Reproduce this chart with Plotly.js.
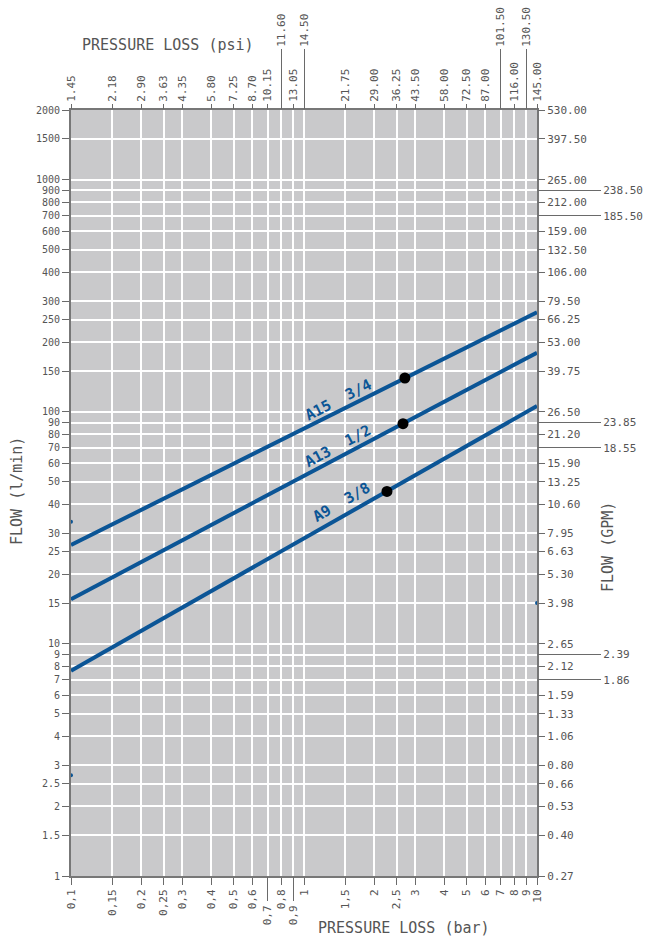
<!DOCTYPE html>
<html>
<head>
<meta charset="utf-8">
<script src="https://cdn.plot.ly/plotly-3.0.1.min.js"></script>
<style>
html,body{margin:0;padding:0;background:#fff;}
#chart{width:650px;height:939px;}
</style>
</head>
<body>
<div id="chart"></div>
<script>
// ---- tick data ----
const barTicks = [0.1,0.15,0.2,0.25,0.3,0.4,0.5,0.6,0.7,0.8,0.9,1,1.5,2,2.5,3,4,5,6,7,8,9,10];
const barLabels = ['0,1','0,15','0,2','0,25','0,3','0,4','0,5','0,6','0,7','0,8','0,9','1','1,5','2','2,5','3','4','5','6','7','8','9','10'];
const barLongTicks = [0.7, 0.9];
const psiLabels = ['1.45','2.18','2.90','3.63','4.35','5.80','7.25','8.70','10.15','11.60','13.05','14.50','21.75','29.00','36.25','43.50','58.00','72.50','87.00','101.50','116.00','130.50','145.00'];
const psiLongTicks = [0.8, 1, 7, 9];
const flowTicks = [1,1.5,2,2.5,3,4,5,6,7,8,9,10,15,20,25,30,40,50,60,70,80,90,100,150,200,250,300,400,500,600,700,800,900,1000,1500,2000];
const flowLabels = ['1','1.5','2','2.5','3','4','5','6','7','8','9','10','15','20','25','30','40','50','60','70','80','90','100','150','200','250','300','400','500','600','700','800','900','1000','1500','2000'];
const gpmLabels = ['0.27','0.40','0.53','0.66','0.80','1.06','1.33','1.59','1.86','2.12','2.39','2.65','3.98','5.30','6.63','7.95','10.60','13.25','15.90','18.55','21.20','23.85','26.50','39.75','53.00','66.25','79.50','106.00','132.50','159.00','185.50','212.00','238.50','265.00','397.50','530.00'];
const gpmLongTicks = [7, 9, 70, 90, 700, 900];

// ---- series data ----
const seriesNames = ['A15  3/4', 'A13  1/2', 'A9  3/8'];
const pressureEnds = [0.1, 10];
const a15Flow = [26.7, 269];
const a13Flow = [15.6, 180];
const a9Flow = [7.67, 106];
const pointPressure = [2.71, 2.66, 2.27];
const pointFlow = [140, 89, 45.4];
const edgeDotPressure = [0.1, 0.1, 10];
const edgeDotFlow = [33.6, 2.72, 15];
const labelPressure = [1.40, 1.40, 1.455];
const labelFlow = [113, 71, 40.8];
const labelAngle = [-27, -28, -30];

// ---- helpers ----
const BLUE = '#0b5596';
const TICKC = '#6a6a6a';
const TXT = '#555555';
const FONT = 'DejaVu Sans Mono';
const xr = [-1, 1];
const yr = [0, Math.log10(2000)];

function splitTicks(vals, labels, longs){
  const sv=[], st=[], lv=[], lt=[];
  vals.forEach((v,i)=>{ if(longs.includes(v)){lv.push(v);lt.push(labels[i]);} else {sv.push(v);st.push(labels[i]);} });
  return {sv, st, lv, lt};
}
const botSplit = splitTicks(barTicks, barLabels, barLongTicks);
const topSplit = splitTicks(barTicks, psiLabels, psiLongTicks);
const rgtSplit = splitTicks(flowTicks, gpmLabels, gpmLongTicks);

const tickFont = {family: FONT, size: 11, color: TXT};
const baseX = {type:'log', range:xr, autorange:false, showgrid:false, zeroline:false,
  ticks:'outside', tickcolor:TICKC, tickwidth:1, tickangle:-90, tickfont:tickFont, fixedrange:true};
const baseY = {type:'log', range:yr, autorange:false, showgrid:false, zeroline:false,
  ticks:'outside', tickcolor:TICKC, tickwidth:1, tickfont:tickFont, fixedrange:true};

const layout = {
  width:650, height:939,
  margin:{l:71, r:113, t:110, b:63},
  paper_bgcolor:'#ffffff', plot_bgcolor:'#c9c9cb',
  showlegend:false,
  xaxis: Object.assign({}, baseX, {
    tickmode:'array', tickvals:barTicks,
    ticktext:barTicks.map((v,i)=> barLongTicks.includes(v) ? '' : barLabels[i]),
    ticklen:7, showgrid:true, gridcolor:'#ffffff', gridwidth:2,
    showline:true, linecolor:'#777777', linewidth:2, mirror:true, anchor:'y'
  }),
  xaxis2: Object.assign({}, baseX, {
    overlaying:'x', side:'bottom', anchor:'y', tickmode:'array',
    tickvals:botSplit.lv, ticktext:botSplit.lt, ticklen:24
  }),
  xaxis3: Object.assign({}, baseX, {
    overlaying:'x', side:'top', anchor:'y', tickmode:'array',
    tickvals:topSplit.sv, ticktext:topSplit.st, ticklen:5
  }),
  xaxis4: Object.assign({}, baseX, {
    overlaying:'x', side:'top', anchor:'y', tickmode:'array',
    tickvals:topSplit.lv, ticktext:topSplit.lt, ticklen:60
  }),
  yaxis: Object.assign({}, baseY, {
    tickmode:'array', tickvals:flowTicks, ticktext:flowLabels, ticklen:7,
    tickfont:{family: FONT, size: 10, color: TXT},
    showgrid:true, gridcolor:'#ffffff', gridwidth:2,
    showline:true, linecolor:'#777777', linewidth:2, mirror:true, anchor:'x'
  }),
  yaxis2: Object.assign({}, baseY, {
    overlaying:'y', side:'right', anchor:'x', tickmode:'array',
    tickvals:rgtSplit.sv, ticktext:rgtSplit.st, ticklen:7
  }),
  yaxis3: Object.assign({}, baseY, {
    overlaying:'y', side:'right', anchor:'x', tickmode:'array',
    tickvals:rgtSplit.lv, ticktext:rgtSplit.lt, ticklen:63
  }),
  annotations: []
};

const titleFont = {family: FONT, size: 15, color: '#555555'};
function paperX(px){ return (px-71)/466; }
function paperY(py){ return (876-py)/766; }
layout.annotations.push(
  {text:'PRESSURE LOSS (psi)', xref:'paper', yref:'paper', x:paperX(168), y:paperY(45), xanchor:'center', yanchor:'middle', showarrow:false, font:titleFont},
  {text:'PRESSURE LOSS (bar)', xref:'paper', yref:'paper', x:paperX(404), y:paperY(928), xanchor:'center', yanchor:'middle', showarrow:false, font:titleFont},
  {text:'FLOW (l/min)', xref:'paper', yref:'paper', x:paperX(17), y:paperY(491), xanchor:'center', yanchor:'middle', textangle:-90, showarrow:false, font:titleFont},
  {text:'FLOW (GPM)', xref:'paper', yref:'paper', x:paperX(608), y:paperY(547), xanchor:'center', yanchor:'middle', textangle:-90, showarrow:false, font:titleFont}
);
seriesNames.forEach((n,i)=>{
  layout.annotations.push({text:'<b>'+n+'</b>', xref:'x', yref:'y', x:Math.log10(labelPressure[i]), y:Math.log10(labelFlow[i]),
    xanchor:'center', yanchor:'middle', textangle:labelAngle[i], showarrow:false,
    font:{family:FONT, size:15, color:BLUE}});
});

const flows = [a15Flow, a13Flow, a9Flow];
const data = [];
flows.forEach((f,i)=>{
  data.push({x:pressureEnds, y:f, mode:'lines', name:seriesNames[i], line:{color:BLUE, width:4}, hoverinfo:'skip', xaxis:'x', yaxis:'y'});
});
data.push({x:pointPressure, y:pointFlow, mode:'markers', marker:{color:'#000000', size:11}, hoverinfo:'skip', xaxis:'x', yaxis:'y', cliponaxis:false});
data.push({x:edgeDotPressure, y:edgeDotFlow, mode:'markers', marker:{color:BLUE, size:4}, hoverinfo:'skip', xaxis:'x', yaxis:'y', cliponaxis:false});
// invisible anchors so overlay axes are registered
[['x2','y'],['x3','y'],['x4','y'],['x','y2'],['x','y3']].forEach(p=>{
  data.push({x:[barTicks[0]], y:[flowTicks[0]], mode:'markers', marker:{opacity:0}, hoverinfo:'skip', xaxis:p[0], yaxis:p[1]});
});

Plotly.newPlot('chart', data, layout, {staticPlot:true});
</script>
</body>
</html>
